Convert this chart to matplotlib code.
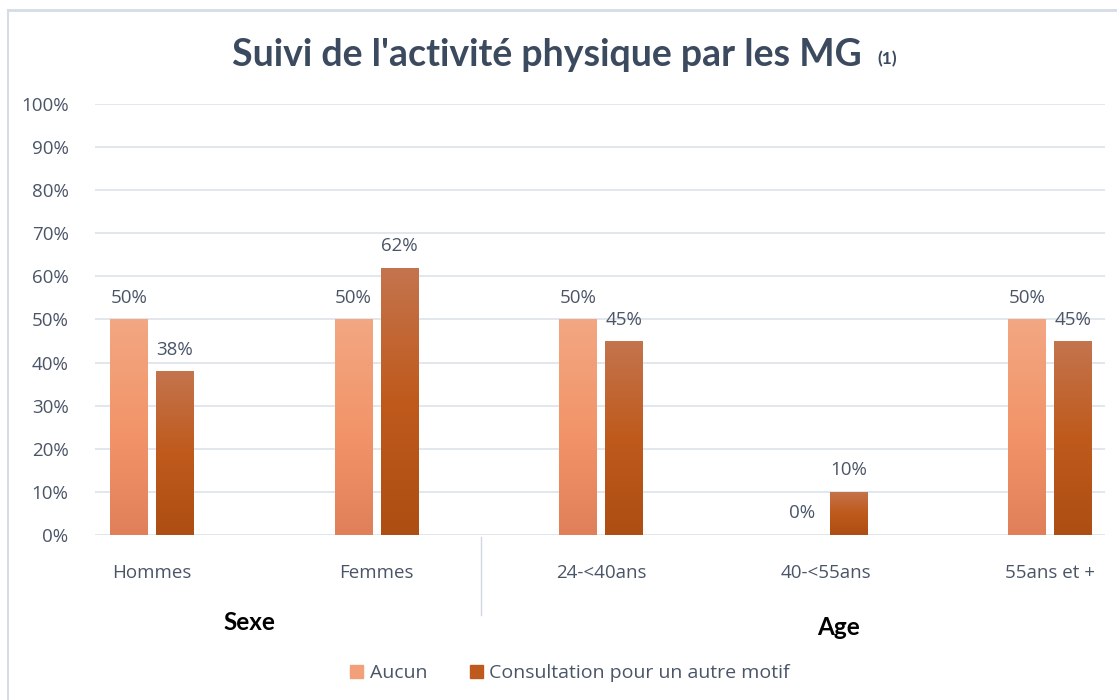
import matplotlib
matplotlib.use("Agg")
import matplotlib.pyplot as plt
import numpy as np
from matplotlib.colors import LinearSegmentedColormap
from matplotlib.patches import Rectangle
from matplotlib.lines import Line2D

categories = ["Hommes", "Femmes", "24-<40ans", "40-<55ans", "55ans et +"]
aucun = [50, 50, 50, 0, 50]
consultation = [38, 62, 45, 10, 45]
series_names = ["Aucun", "Consultation pour un autre motif"]
group_labels = ["Sexe", "Age"]
yticks = [0, 10, 20, 30, 40, 50, 60, 70, 80, 90, 100]
title = "Suivi de l'activité physique par les MG"

plt.rcParams['font.family'] = ['Open Sans', 'DejaVu Sans']
txt = "#4A5568"
bold_fam = ['Lato', 'DejaVu Sans']

fig = plt.figure(figsize=(11.17, 7.0), dpi=100)
fig.patch.set_facecolor("white")
# outer chart border
fig.add_artist(Line2D([8/1117, 1.0], [1 - 10/700, 1 - 10/700], transform=fig.transFigure, color="#D5DCE6", lw=2))
fig.add_artist(Line2D([8/1117, 8/1117], [1 - 10/700, 0.0], transform=fig.transFigure, color="#D5DCE6", lw=1.5))

ax = fig.add_axes([95/1117, 1 - 535/700, 1010/1117, 431/700])
x = np.arange(len(categories))
w = 0.169
off = 0.1025
b1 = ax.bar(x - off, aucun, w, color="#F0956A", edgecolor="none", zorder=2)
b2 = ax.bar(x + off, consultation, w, color="#BE5A1E", edgecolor="none", zorder=2)

cm1 = LinearSegmentedColormap.from_list("a", ["#E0805A", "#F3956A", "#F2A782"])
cm2 = LinearSegmentedColormap.from_list("c", ["#AD4E12", "#BF5A1C", "#C4744E"])
grad = np.linspace(0, 1, 256).reshape(-1, 1)
for bars, cm in ((b1, cm1), (b2, cm2)):
    for p in bars:
        h = p.get_height()
        if h <= 0:
            continue
        x0 = p.get_x()
        im = ax.imshow(grad, cmap=cm, origin="lower", aspect="auto",
                       extent=(x0, x0 + p.get_width(), 0, h), zorder=2.5)
        im.set_clip_path(p)

for bars, vals in ((b1, aucun), (b2, consultation)):
    for p, v in zip(bars, vals):
        ax.annotate(f"{v}%", (p.get_x() + p.get_width() / 2, v), xytext=(0, 9),
                    textcoords="offset points", ha="center", va="bottom",
                    fontsize=13.5, color=txt)

ax.set_xlim(-0.254, 4.245)
ax.set_ylim(0, 100)
ax.set_yticks(yticks)
ax.set_yticklabels([f"{t}%" for t in yticks], fontsize=13.5, color=txt)
ax.set_xticks(x)
ax.set_xticklabels(categories, fontsize=13.5, color=txt)
ax.tick_params(axis="y", length=0, pad=19)
ax.tick_params(axis="x", length=0, pad=21)
ax.grid(axis="y", color="#DDE2EA", lw=1.2, zorder=0)
ax.set_axisbelow(True)
for s in ax.spines.values():
    s.set_visible(False)

# separator between groups
ax.plot([1.465, 1.465], [-0.5, -18.5], color="#D0D8E4", lw=1, clip_on=False,
        transform=ax.transData)
ax.text(0.435, -20.3, group_labels[0], ha="center", va="center", fontsize=17.5,
        fontweight="bold", color="black", family=bold_fam)
ax.text(3.06, -21.4, group_labels[1], ha="center", va="center", fontsize=17.5,
        fontweight="bold", color="black", family=bold_fam)

fig.text(232/1117, 1 - 55/700, title, ha="left", va="center", fontsize=27,
         fontweight="bold", color="#3B4A5E", family=bold_fam)
fig.text(887/1117, 1 - 59/700, "(1)", ha="center", va="center", fontsize=12.5,
         fontweight="bold", color="#3B4A5E", family=bold_fam)

handles = [Rectangle((0, 0), 1, 1, color="#F2A07A"), Rectangle((0, 0), 1, 1, color="#BE5A1E")]
fig.legend(handles, series_names, loc="center", bbox_to_anchor=(570/1117, 1 - 673/700),
           ncol=2, frameon=False, fontsize=14, handlelength=0.65, handleheight=0.65,
           handletextpad=0.35, columnspacing=2.2, labelcolor=txt)

fig.savefig("out.png", dpi=100, facecolor="white")
